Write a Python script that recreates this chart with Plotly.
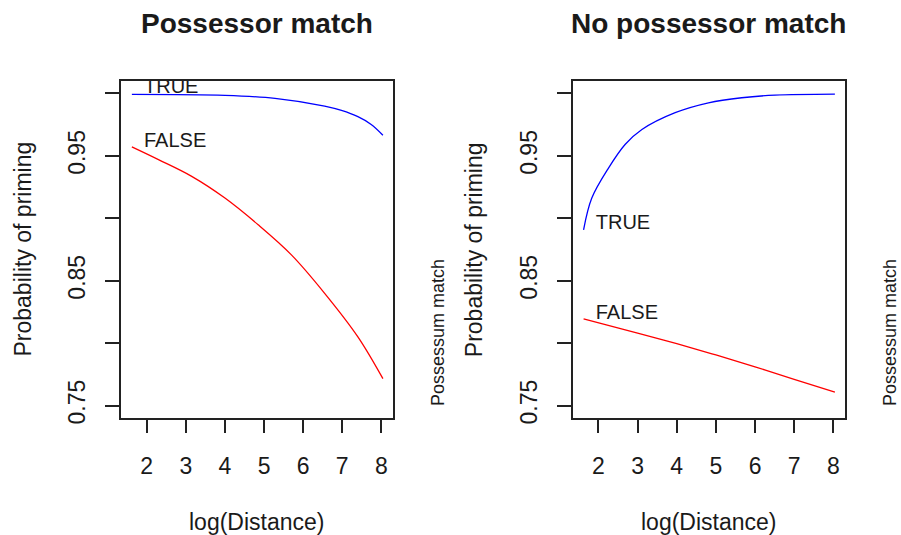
import plotly.graph_objects as go

# ---- data ----
left_true_x = [1.62, 4.0, 5.28, 6.55, 6.98, 7.40, 7.74, 8.04]
left_true_y = [0.9993, 0.9985, 0.9961, 0.9899, 0.9864, 0.9814, 0.9752, 0.9666]

left_false_x = [1.62, 2.30, 3.15, 4.0, 4.85, 5.70, 6.55, 7.40, 8.04]
left_false_y = [0.9572, 0.9470, 0.9336, 0.9162, 0.8948, 0.8707, 0.8399, 0.8050, 0.7715]

right_true_x = [1.62, 1.83, 2.26, 2.68, 3.11, 3.96, 4.81, 5.66, 6.51, 8.04]
right_true_y = [0.8908, 0.9162, 0.9404, 0.9591, 0.9711, 0.9846, 0.9925, 0.9966, 0.9987, 0.9995]

right_false_x = [1.62, 3.0, 4.0, 5.0, 6.0, 7.0, 8.04]
right_false_y = [0.8195, 0.8080, 0.7995, 0.7905, 0.7810, 0.7710, 0.7608]

label_names = ["TRUE", "FALSE"]
left_label_y = [1.0045, 0.9614]
right_label_y = [0.8954, 0.8234]
label_x = 1.93

panel_titles = ["Possessor match", "No possessor match"]
x_title = "log(Distance)"
y_title = "Probability of priming"
side_title = "Possessum match"

x_ticks = [2, 3, 4, 5, 6, 7, 8]
y_ticks = [0.75, 0.80, 0.85, 0.90, 0.95, 1.00]
y_ticktext = ["0.75", "", "0.85", "", "0.95", ""]

W, H = 901, 535
FONT = "Liberation Sans, Arial, sans-serif"
TXT = "#1a1a1a"
BLUE = "#0000FF"
RED = "#FF0000"

fig = go.Figure()

def add_panel(xa, ya, tx, ty, fx, fy, lab_y):
    fig.add_trace(go.Scatter(x=tx, y=ty, mode="lines", line=dict(color=BLUE, width=1.3, shape="spline"),
                             xaxis=xa, yaxis=ya, showlegend=False, hoverinfo="skip"))
    fig.add_trace(go.Scatter(x=fx, y=fy, mode="lines", line=dict(color=RED, width=1.3, shape="spline"),
                             xaxis=xa, yaxis=ya, showlegend=False, hoverinfo="skip"))
    fig.add_trace(go.Scatter(x=[label_x, label_x], y=lab_y, mode="text", text=label_names,
                             textposition="middle right", cliponaxis=True,
                             textfont=dict(family=FONT, size=20, color=TXT),
                             xaxis=xa, yaxis=ya, showlegend=False, hoverinfo="skip"))

add_panel("x", "y", left_true_x, left_true_y, left_false_x, left_false_y, left_label_y)
add_panel("x2", "y2", right_true_x, right_true_y, right_false_x, right_false_y, right_label_y)

xdoms = [[121 / W, 393 / W], [572.7 / W, 845 / W]]
ydom = [1 - 418 / H, 1 - 81 / H]

common_x = dict(range=[1.342, 8.298], tickvals=x_ticks, ticks="outside", ticklen=13, tickwidth=1.5,
                tickcolor="#222", showline=True, linecolor="#222", linewidth=1.5, mirror=True,
                showgrid=False, zeroline=False, ticklabelstandoff=14, automargin=False,
                tickfont=dict(family=FONT, size=23, color=TXT))
common_y = dict(range=[0.74, 1.01], tickvals=y_ticks, ticktext=y_ticktext, ticks="outside", ticklen=14,
                tickwidth=1.5, tickcolor="#222", showline=True, linecolor="#222", linewidth=1.5,
                mirror=True, showgrid=False, zeroline=False, tickangle=-90, ticklabelstandoff=11,
                automargin=False, tickfont=dict(family=FONT, size=23, color=TXT))

fig.update_layout(
    width=W, height=H, margin=dict(l=0, r=0, t=0, b=0),
    paper_bgcolor="white", plot_bgcolor="white",
    xaxis=dict(domain=xdoms[0], anchor="y", **common_x),
    yaxis=dict(domain=ydom, anchor="x", **common_y),
    xaxis2=dict(domain=xdoms[1], anchor="y2", **common_x),
    yaxis2=dict(domain=ydom, anchor="x2", **common_y),
)

ann = []
centers = [(121 + 393) / 2, (572.7 + 845) / 2]
lefts = [121, 572.7]
rights = [393, 845]
for i in range(2):
    ann.append(dict(x=centers[i] / W, y=1 - 24 / H, xref="paper", yref="paper", text="<b>%s</b>" % panel_titles[i],
                    showarrow=False, xanchor="center", yanchor="middle",
                    font=dict(family=FONT, size=28, color=TXT)))
    ann.append(dict(x=centers[i] / W, y=1 - 522 / H, xref="paper", yref="paper", text=x_title,
                    showarrow=False, xanchor="center", yanchor="middle",
                    font=dict(family=FONT, size=23, color=TXT)))
    ann.append(dict(x=(lefts[i] - 99) / W, y=1 - 249.5 / H, xref="paper", yref="paper", text=y_title,
                    showarrow=False, xanchor="center", yanchor="middle", textangle=-90,
                    font=dict(family=FONT, size=23, color=TXT)))
    ann.append(dict(x=(rights[i] + 44.5) / W, y=1 - 332.5 / H, xref="paper", yref="paper", text=side_title,
                    showarrow=False, xanchor="center", yanchor="middle", textangle=-90,
                    font=dict(family=FONT, size=18, color=TXT)))
fig.update_layout(annotations=ann)

fig.write_html("out.html")
